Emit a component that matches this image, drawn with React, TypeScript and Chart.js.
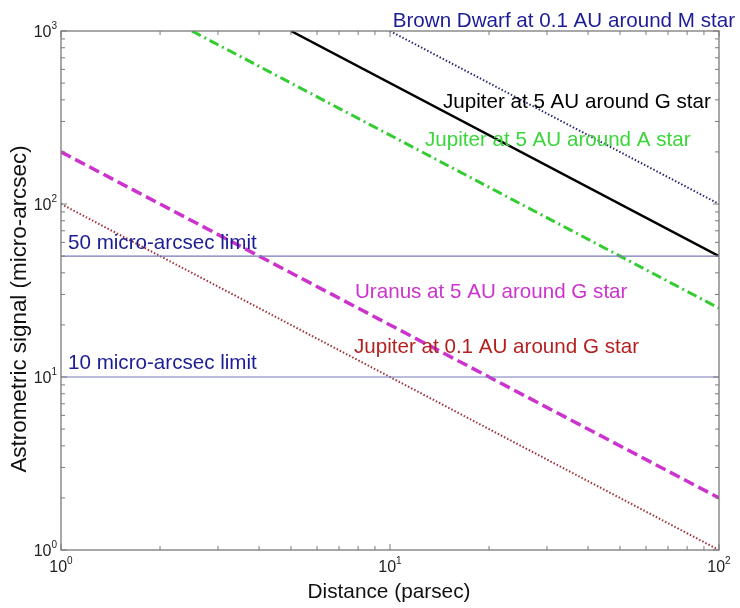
import React, { useEffect, useRef } from "react";
import { Chart, registerables } from "chart.js";

Chart.register(...registerables);

const xRange = [1, 100];
const yRange = [1, 1000];
const xMajor = [1, 10, 100];
const yMajor = [1, 10, 100, 1000];

const brownDwarfX = [10, 100];
const brownDwarfY = [1000, 100];
const jupiterGX = [5, 100];
const jupiterGY = [1000, 50];
const jupiterAX = [2.5, 100];
const jupiterAY = [1000, 25];
const uranusX = [1, 100];
const uranusY = [200, 2];
const jupiterCloseX = [1, 100];
const jupiterCloseY = [100, 1];
const limitX = [1, 100];
const limit50Y = [50, 50];
const limit10Y = [10, 10];

const labels = [
  { text: "Brown Dwarf at 0.1 AU around M star", color: "#1c1c96", x: 735, y: 21, align: "right" },
  { text: "Jupiter at 5 AU around G star", color: "#000000", x: 443, y: 102, align: "left" },
  { text: "Jupiter at 5 AU around A star", color: "#3ad63a", x: 425, y: 140, align: "left" },
  { text: "50 micro-arcsec limit", color: "#1c1c96", x: 68, y: 243, align: "left" },
  { text: "Uranus at 5 AU around G star", color: "#cc33cc", x: 355, y: 292, align: "left" },
  { text: "Jupiter at 0.1 AU around G star", color: "#b52020", x: 354, y: 347, align: "left" },
  { text: "10 micro-arcsec limit", color: "#1c1c96", x: 68, y: 363, align: "left" },
];

const FONT = "'Liberation Sans', Arial, sans-serif";

const pts = (xs: number[], ys: number[]) => xs.map((x, i) => ({ x, y: ys[i] }));

const decorPlugin = {
  id: "decor",
  afterDatasetsDraw(chart: any) {
    const ctx = chart.ctx as CanvasRenderingContext2D;
    const { left, right, top, bottom } = chart.chartArea;
    const xs = chart.scales.x;
    const ys = chart.scales.y;
    ctx.save();
    // annotations
    ctx.font = `20.6px ${FONT}`;
    ctx.textBaseline = "middle";
    for (const l of labels) {
      ctx.textAlign = l.align as CanvasTextAlign;
      ctx.fillStyle = l.color;
      ctx.fillText(l.text, l.x, l.y);
    }
    // frame
    ctx.strokeStyle = "#7a7a7a";
    ctx.lineWidth = 1.3;
    ctx.strokeRect(left, top, right - left, bottom - top);
    // ticks
    ctx.lineWidth = 1;
    const drawTicks = (vals: number[], len: number) => {
      for (const v of vals) {
        const px = xs.getPixelForValue(v);
        if (v >= xRange[0] && v <= xRange[1]) {
          ctx.beginPath();
          ctx.moveTo(px, bottom);
          ctx.lineTo(px, bottom - len);
          ctx.moveTo(px, top);
          ctx.lineTo(px, top + len);
          ctx.stroke();
        }
      }
    };
    const drawYTicks = (vals: number[], len: number) => {
      for (const v of vals) {
        if (v >= yRange[0] && v <= yRange[1]) {
          const py = ys.getPixelForValue(v);
          ctx.beginPath();
          ctx.moveTo(left, py);
          ctx.lineTo(left + len, py);
          ctx.moveTo(right, py);
          ctx.lineTo(right - len, py);
          ctx.stroke();
        }
      }
    };
    const minorX: number[] = [];
    for (const d of [1, 10]) for (let k = 2; k <= 9; k++) minorX.push(d * k);
    const minorY: number[] = [];
    for (const d of [1, 10, 100]) for (let k = 2; k <= 9; k++) minorY.push(d * k);
    drawTicks(minorX, 4);
    drawYTicks(minorY, 4);
    drawTicks(xMajor, 6);
    drawYTicks(yMajor, 6);
    // tick labels
    ctx.fillStyle = "#222";
    const drawPow = (exp: number, x: number, y: number, align: "center" | "right") => {
      ctx.font = `16px ${FONT}`;
      const base = "10";
      const bw = ctx.measureText(base).width;
      ctx.font = `10px ${FONT}`;
      const ew = ctx.measureText(String(exp)).width;
      const total = bw + ew;
      const x0 = align === "center" ? x - total / 2 : x - total;
      ctx.textAlign = "left";
      ctx.textBaseline = "alphabetic";
      ctx.font = `16px ${FONT}`;
      ctx.fillText(base, x0, y);
      ctx.font = `10px ${FONT}`;
      ctx.fillText(String(exp), x0 + bw, y - 8);
    };
    xMajor.forEach((v) => drawPow(Math.round(Math.log10(v)), xs.getPixelForValue(v), bottom + 22, "center"));
    yMajor.forEach((v) => drawPow(Math.round(Math.log10(v)), left - 4, ys.getPixelForValue(v) + 6, "right"));
    // axis titles
    ctx.fillStyle = "#111";
    ctx.font = `20.8px ${FONT}`;
    ctx.textAlign = "center";
    ctx.textBaseline = "middle";
    ctx.fillText("Distance (parsec)", 389, 592);
    ctx.save();
    ctx.translate(20, 309);
    ctx.rotate(-Math.PI / 2);
    ctx.font = `22.4px ${FONT}`;
    ctx.fillText("Astrometric signal (micro-arcsec)", 0, 0);
    ctx.restore();
    ctx.restore();
  },
};

export default function App() {
  const ref = useRef<HTMLCanvasElement>(null);
  useEffect(() => {
    if (!ref.current) return;
    const chart = new Chart(ref.current, {
      type: "line",
      data: {
        datasets: [
          { data: pts(limitX, limit50Y), borderColor: "#7878b8", borderWidth: 1.2, pointRadius: 0 },
          { data: pts(limitX, limit10Y), borderColor: "#7878b8", borderWidth: 1.2, pointRadius: 0 },
          { data: pts(jupiterCloseX, jupiterCloseY), borderColor: "#a03038", borderWidth: 2, borderDash: [1.5, 2], pointRadius: 0 },
          { data: pts(uranusX, uranusY), borderColor: "#cc33cc", borderWidth: 3.5, borderDash: [11, 5], pointRadius: 0 },
          { data: pts(jupiterAX, jupiterAY), borderColor: "#33cc33", borderWidth: 3, borderDash: [10, 4, 2, 4], pointRadius: 0 },
          { data: pts(jupiterGX, jupiterGY), borderColor: "#000000", borderWidth: 2.5, pointRadius: 0 },
          { data: pts(brownDwarfX, brownDwarfY), borderColor: "#2a2a70", borderWidth: 2, borderDash: [1.5, 2], pointRadius: 0 },
        ],
      },
      options: {
        animation: false,
        responsive: false,
        maintainAspectRatio: false,
        layout: { padding: { left: 61, right: 21, top: 31, bottom: 58 } },
        plugins: { legend: { display: false }, tooltip: { enabled: false } },
        scales: {
          x: { type: "logarithmic", min: xRange[0], max: xRange[1], display: false },
          y: { type: "logarithmic", min: yRange[0], max: yRange[1], display: false },
        },
      },
      plugins: [decorPlugin],
    });
    return () => chart.destroy();
  }, []);
  return (
    <div style={{ position: "fixed", left: 0, top: 0, width: 740, height: 608, background: "#fff" }}>
      <canvas ref={ref} width={740} height={608} style={{ width: 740, height: 608 }} />
    </div>
  );
}
